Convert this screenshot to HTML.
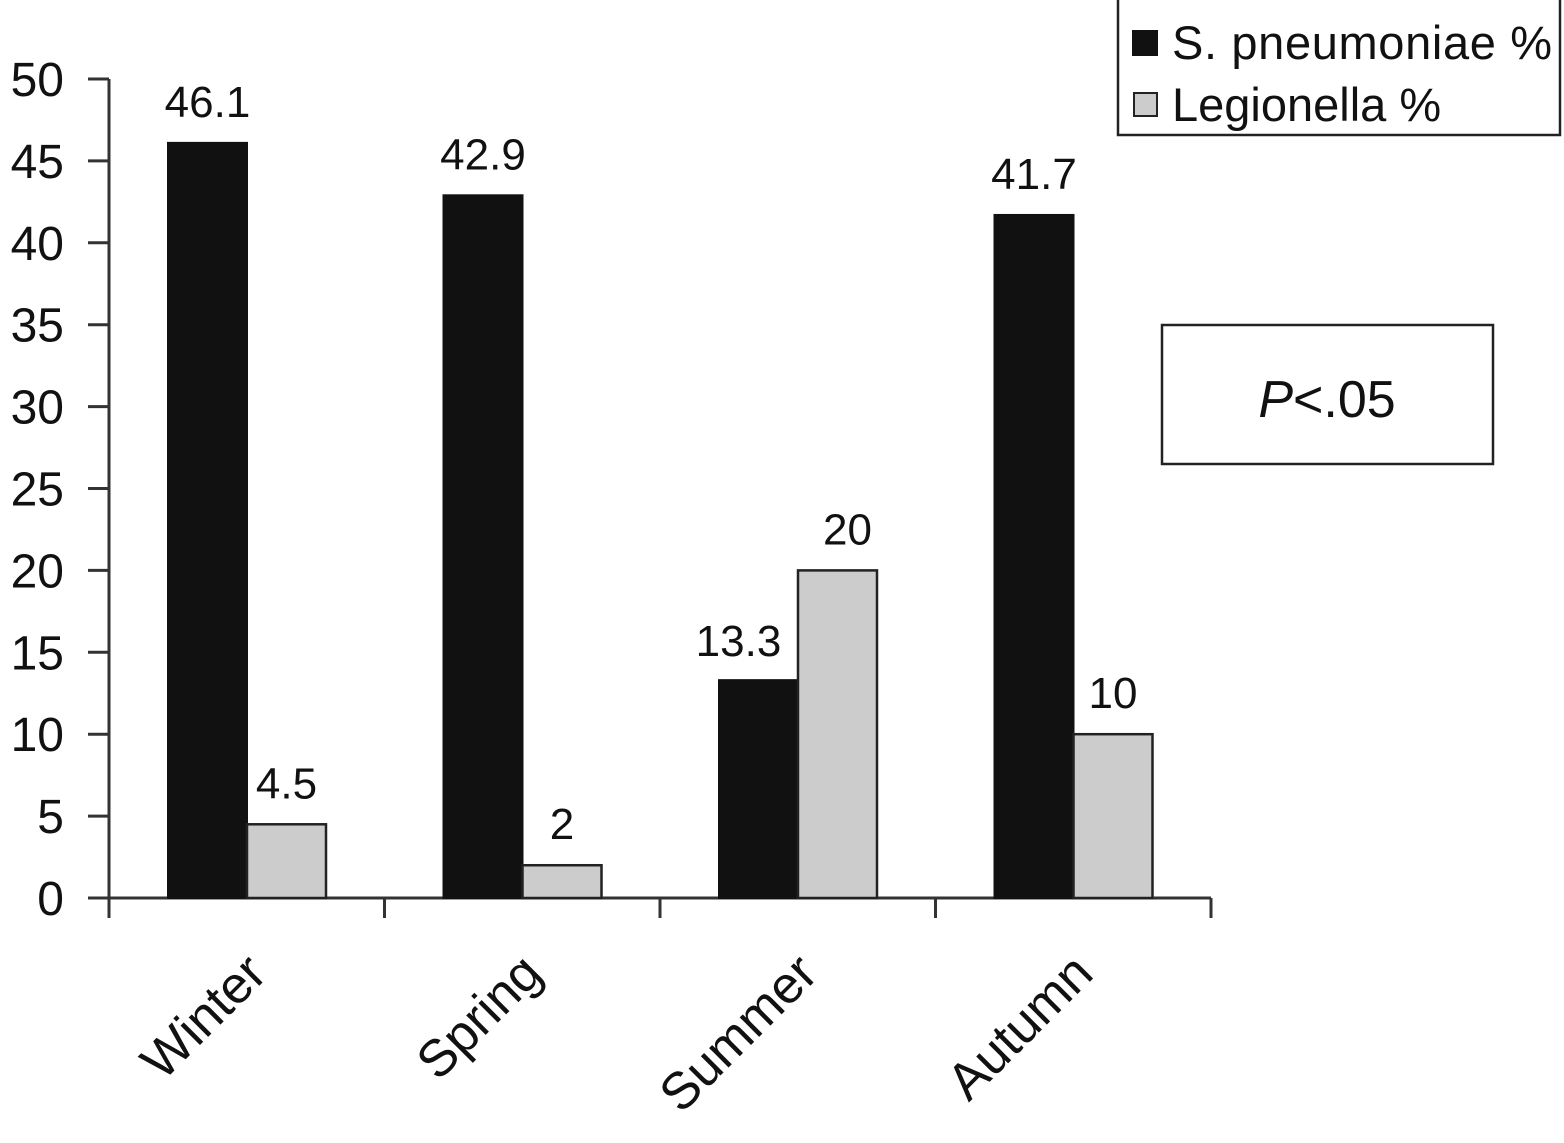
<!DOCTYPE html>
<html><head><meta charset="utf-8"><style>
body{margin:0;background:#fff}
svg text{font-family:"Liberation Sans",Arial,sans-serif;fill:#111}
</style></head><body>
<svg id="chart" width="1564" height="1138" xmlns="http://www.w3.org/2000/svg">
<g id="axes"></g>
<g id="bars"></g>
<g>
<rect x="1118" y="-2" width="442" height="137" fill="#fff" stroke="#222" stroke-width="2.5"/>
<rect x="1133" y="31" width="24" height="24" fill="#111" stroke="#111" stroke-width="2"/>
<text x="1172" y="59" font-size="47" textLength="380">S. pneumoniae %</text>
<rect x="1134" y="93" width="23" height="23" fill="#ccc" stroke="#222" stroke-width="2"/>
<text x="1172" y="121" font-size="47">Legionella %</text>
</g>
<g>
<rect x="1162" y="325" width="331" height="139" fill="#fff" stroke="#222" stroke-width="2.5"/>
<text x="1327" y="417" font-size="52" text-anchor="middle"><tspan font-style="italic">P</tspan>&lt;.05</text>
</g>
</svg>
<script>
const categories=["Winter","Spring","Summer","Autumn"];
const spneumoniae=[46.1,42.9,13.3,41.7];
const legionella=[4.5,2,20,10];
const yTicks=[0,5,10,15,20,25,30,35,40,45,50];
const NS="http://www.w3.org/2000/svg";
const x0=109,catW=275.5,y0=898,pxPer=16.38,barW=79;
const y=v=>y0-v*pxPer;
const cx=i=>x0+catW*i+138;
function mk(t,a,p){const e=document.createElementNS(NS,t);for(const k in a)e.setAttribute(k,a[k]);p.appendChild(e);return e;}
const axes=document.getElementById('axes'),bars=document.getElementById('bars');
const ya=mk('line',{x1:x0,y1:y(50),x2:x0,y2:y0+20,stroke:'#333','stroke-width':3},axes);


const xa=mk('line',{x1:88,y1:y0,x2:x0+catW*categories.length,y2:y0,stroke:'#333','stroke-width':3},axes);


yTicks.forEach(v=>{
 const t=mk('line',{x1:88,y1:y(v),x2:x0,y2:y(v),stroke:'#333','stroke-width':3},axes);
 
 
 const l=mk('text',{x:64,y:y(v)+17,'font-size':48,'text-anchor':'end'},axes);l.textContent=v;
 
 
});
for(let i=0;i<=categories.length;i++){
 const t=mk('line',{x1:x0+catW*i,y1:y0,x2:x0+catW*i,y2:y0+20,stroke:'#333','stroke-width':3},axes);
 
 
}
categories.forEach((c,i)=>{
 const px=cx(i)+22,py=y0+78;
 const l=mk('text',{x:px,y:py,'font-size':52,'text-anchor':'end',transform:`rotate(-45 ${px} ${py})`},axes);l.textContent=c;
 
 
 const a=spneumoniae[i],b=legionella[i];
 const r1=mk('rect',{x:cx(i)-barW,y:y(a),width:barW,height:y0-y(a),fill:'#111',stroke:'#111','stroke-width':2},bars);
 
 
 const r2=mk('rect',{x:cx(i),y:y(b),width:barW,height:y0-y(b),fill:'#ccc',stroke:'#222','stroke-width':2.5},bars);
 
 
 const t1=mk('text',{x:cx(i)-barW/2-(i==2?20:0),y:y(a)-(i==2?24:26),'font-size':44,'text-anchor':'middle'},bars);t1.textContent=a;
 
 
 const t2=mk('text',{x:cx(i)+barW/2+(i==2?10:0),y:y(b)-26,'font-size':44,'text-anchor':'middle'},bars);t2.textContent=b;
 
 
});
</script>
</body></html>
